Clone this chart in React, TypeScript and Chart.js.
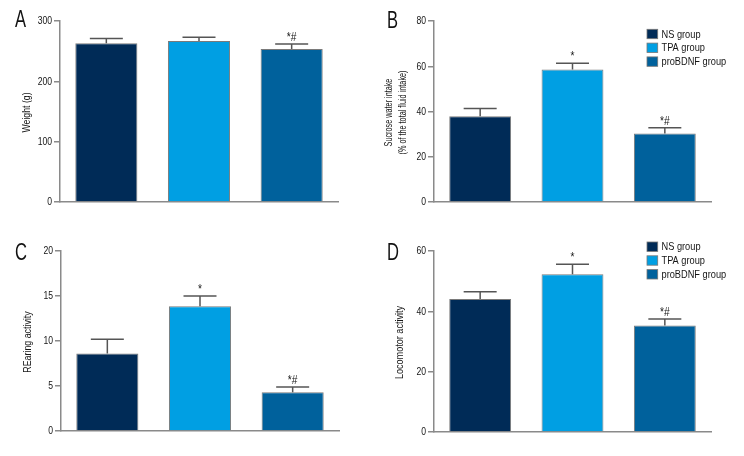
import React, { useEffect, useRef } from "react";
import { Chart, registerables } from "chart.js";

Chart.register(...registerables);

const categories = ["NS group", "TPA group", "proBDNF group"];
const colors = ["#002b57", "#009fe3", "#00619c"];

const weightValues = [263, 267, 253.5];
const weightSem = [8, 6, 8.5];
const weightMarks = ["", "", "*#"];

const sucroseValues = [37.9, 58.6, 30.3];
const sucroseSem = [3.4, 2.7, 2.5];
const sucroseMarks = ["", "*", "*#"];

const rearingValues = [8.6, 13.85, 4.3];
const rearingSem = [1.6, 1.15, 0.6];
const rearingMarks = ["", "*", "*#"];

const locomotorValues = [44.1, 52.3, 35.3];
const locomotorSem = [2.4, 3.3, 2.2];
const locomotorMarks = ["", "*", "*#"];

const FONT = "'Liberation Sans', Arial, sans-serif";
const AXIS = "#8a8a8a";
const TEXT = "#151515";

type Panel = {
  letter: string;
  values: number[];
  sem: number[];
  marks: string[];
  max: number;
  step: number;
  title: string[];
  titleX: number[];
  titleSize: number;
  titleScale: number;
  legend: boolean;
  legendTop: number;
  left: number;
  top: number;
  axisLeft: number;
  areaTop: number;
  areaBottom: number;
  areaRight: number;
  letterY: number;
};

const panels: Panel[] = [
  { letter: "A", values: weightValues, sem: weightSem, marks: weightMarks, max: 300, step: 100, title: ["Weight (g)"], titleX: [27], titleSize: 11.5, titleScale: 0.76, legend: false, legendTop: 0, left: 0, top: 0, axisLeft: 60, areaTop: 21, areaBottom: 202, areaRight: 338, letterY: 27 },
  { letter: "B", values: sucroseValues, sem: sucroseSem, marks: sucroseMarks, max: 80, step: 20, title: ["Sucrose water intake", "(% of the total fluid intake)"], titleX: [16.5, 31], titleSize: 11, titleScale: 0.66, legend: true, legendTop: 34, left: 372, top: 0, axisLeft: 62, areaTop: 21, areaBottom: 202, areaRight: 339, letterY: 28 },
  { letter: "C", values: rearingValues, sem: rearingSem, marks: rearingMarks, max: 20, step: 5, title: ["REaring activity"], titleX: [28], titleSize: 11.5, titleScale: 0.77, legend: false, legendTop: 0, left: 0, top: 228, axisLeft: 61, areaTop: 23, areaBottom: 203, areaRight: 339, letterY: 32 },
  { letter: "D", values: locomotorValues, sem: locomotorSem, marks: locomotorMarks, max: 60, step: 20, title: ["Locomotor activity"], titleX: [28], titleSize: 11.5, titleScale: 0.79, legend: true, legendTop: 18.7, left: 372, top: 228, axisLeft: 62, areaTop: 23, areaBottom: 204, areaRight: 339, letterY: 32 },
];

const W = 372;
const H = 228;

function narrowText(ctx: CanvasRenderingContext2D, text: string, x: number, y: number, sx: number, rot = 0) {
  ctx.save();
  ctx.translate(x, y);
  if (rot) ctx.rotate(rot);
  ctx.scale(sx, 1);
  ctx.fillText(text, 0, 0);
  ctx.restore();
}

function PanelChart({ p }: { p: Panel }) {
  const ref = useRef<HTMLCanvasElement | null>(null);
  useEffect(() => {
    if (!ref.current) return;
    const extras = {
      id: "extras",
      afterDatasetsDraw(chart: any) {
        const ctx = chart.ctx as CanvasRenderingContext2D;
        const yScale = chart.scales.y;
        const area = chart.chartArea;
        const meta = chart.getDatasetMeta(0);
        ctx.save();
        // error bars + significance marks
        meta.data.forEach((el: any, i: number) => {
          const x = el.x;
          const yBar = el.y;
          const yTop = yScale.getPixelForValue(p.values[i] + p.sem[i]);
          ctx.strokeStyle = "#555555";
          ctx.lineWidth = 1.5;
          ctx.beginPath();
          ctx.moveTo(x, yBar);
          ctx.lineTo(x, yTop);
          ctx.moveTo(x - 16.5, yTop);
          ctx.lineTo(x + 16.5, yTop);
          ctx.stroke();
          if (p.marks[i]) {
            ctx.fillStyle = TEXT;
            ctx.font = `12px ${FONT}`;
            ctx.textAlign = "center";
            ctx.textBaseline = "alphabetic";
            narrowText(ctx, p.marks[i], x, yTop - 3, 0.85);
          }
        });
        // y tick labels
        ctx.fillStyle = TEXT;
        ctx.font = `10.5px ${FONT}`;
        ctx.textAlign = "right";
        ctx.textBaseline = "middle";
        yScale.ticks.forEach((t: any) => {
          const y = yScale.getPixelForValue(t.value);
          narrowText(ctx, String(t.value), area.left - 8, y + 0.5, 0.82);
        });
        // y title
        ctx.font = `${p.titleSize}px ${FONT}`;
        ctx.textAlign = "center";
        ctx.textBaseline = "middle";
        const cy = (area.top + area.bottom) / 2 + 1;
        p.title.forEach((line, i) => {
          narrowText(ctx, line, p.titleX[i], cy, p.titleScale, -Math.PI / 2);
        });
        // panel letter
        ctx.fillStyle = "#111";
        ctx.font = `23px ${FONT}`;
        ctx.textAlign = "left";
        ctx.textBaseline = "alphabetic";
        narrowText(ctx, p.letter, 15, p.letterY, 0.72);
        // legend
        if (p.legend) {
          ctx.font = `11px ${FONT}`;
          ctx.textBaseline = "middle";
          categories.forEach((c, i) => {
            const ry = p.legendTop + i * 13.8;
            ctx.fillStyle = colors[i];
            ctx.fillRect(275, ry - 4.7, 10.7, 9.4);
            ctx.strokeStyle = "#777";
            ctx.lineWidth = 0.8;
            ctx.strokeRect(275, ry - 4.7, 10.7, 9.4);
            ctx.fillStyle = TEXT;
            narrowText(ctx, c, 289.5, ry + 0.5, 0.84);
          });
        }
        ctx.restore();
      },
    };
    const chart = new Chart(ref.current, {
      type: "bar",
      data: {
        labels: categories,
        datasets: [
          {
            data: p.values,
            backgroundColor: colors,
            borderColor: "#7a7a7a",
            borderWidth: 1,
            barPercentage: 0.67,
            categoryPercentage: 1,
          },
        ],
      },
      options: {
        animation: false,
        responsive: false,
        events: [],
        layout: { padding: { left: 0, top: p.areaTop, right: W - p.areaRight, bottom: H - p.areaBottom - 10 } },
        plugins: { legend: { display: false }, tooltip: { enabled: false }, title: { display: false } },
        scales: {
          x: {
            ticks: { display: false },
            grid: { display: false },
            border: { display: true, color: AXIS, width: 1.5 },
            afterFit(scale: any) {
              scale.height = 10;
              scale.paddingLeft = 0;
              scale.paddingRight = 0;
            },
          },
          y: {
            min: 0,
            max: p.max,
            ticks: { display: false, stepSize: p.step },
            grid: { display: true, drawOnChartArea: false, drawTicks: true, tickLength: 6, color: AXIS, lineWidth: 1.5 },
            border: { display: true, color: AXIS, width: 1.5 },
            afterFit(scale: any) {
              scale.width = p.axisLeft;
              scale.paddingTop = 0;
              scale.paddingBottom = 0;
            },
          },
        },
      },
      plugins: [extras],
    });
    return () => chart.destroy();
  }, []);
  return (
    <canvas
      ref={ref}
      width={W}
      height={H}
      style={{ position: "absolute", left: p.left, top: p.top, width: W, height: H }}
    />
  );
}

export default function App() {
  return (
    <div style={{ position: "absolute", left: 0, top: 0, width: 744, height: 456, background: "#fff", overflow: "hidden" }}>
      {panels.map((p) => (
        <PanelChart key={p.letter} p={p} />
      ))}
    </div>
  );
}
